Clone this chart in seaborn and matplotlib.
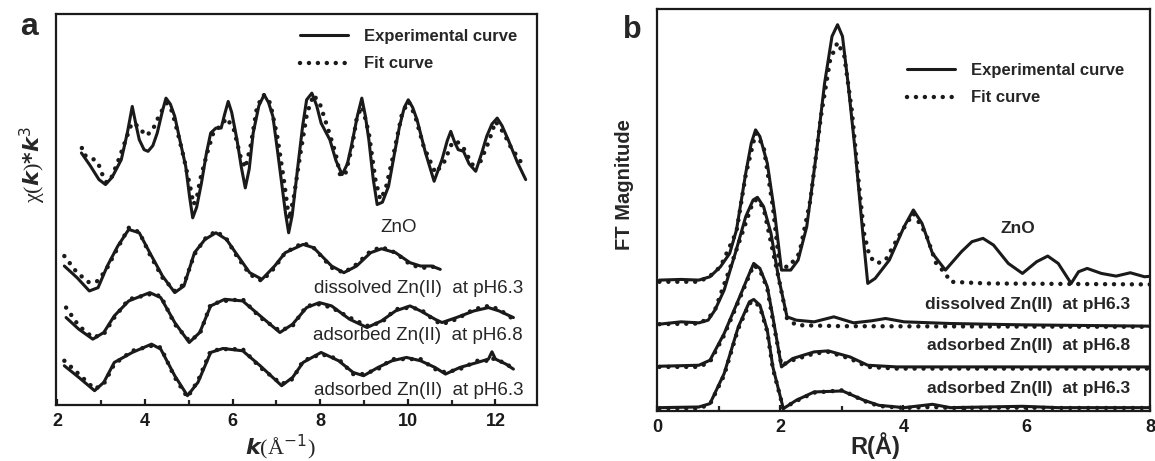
import pandas as pd
import matplotlib
matplotlib.use("Agg")
import matplotlib.pyplot as plt
import seaborn as sns

# ---------------- panel a : chi(k)*k^3 (arbitrary stacked units) ----------------
k_zno = [2.55, 2.75, 2.95, 3.10, 3.25, 3.46, 3.60, 3.71, 3.80, 3.87, 3.98, 4.07, 4.18, 4.28, 4.40, 4.48,
         4.58, 4.68, 4.80, 4.93, 5.02, 5.09, 5.18, 5.29, 5.40, 5.50, 5.62, 5.74, 5.82, 5.90, 5.98, 6.10,
         6.20, 6.29, 6.38, 6.47, 6.60, 6.72, 6.82, 6.92, 7.02, 7.12, 7.21, 7.28, 7.36, 7.49, 7.60, 7.69,
         7.81, 7.92, 8.02, 8.22, 8.36, 8.50, 8.62, 8.71, 8.85, 8.95, 9.03, 9.11, 9.21, 9.30, 9.42, 9.56,
         9.70, 9.81, 9.92, 10.01, 10.11, 10.21, 10.40, 10.60, 10.78, 10.90, 10.98, 11.07, 11.15, 11.27,
         11.40, 11.55, 11.68, 11.80, 11.92, 12.04, 12.15, 12.29, 12.50, 12.69]
exp_zno = [75.8, 72.0, 67.8, 66.3, 68.5, 73.8, 82.0, 89.8, 84.0, 79.8, 76.8, 76.3, 78.0, 81.8, 88.5, 92.3,
           90.5, 86.8, 79.5, 71.8, 62.5, 56.3, 59.5, 66.8, 75.5, 81.8, 83.3, 83.3, 87.5, 91.3, 88.0, 79.8,
           71.5, 65.3, 71.0, 81.8, 90.0, 93.3, 91.0, 86.8, 77.0, 66.8, 57.5, 51.8, 57.0, 71.8, 84.0, 91.8,
           93.8, 90.0, 84.8, 79.8, 73.5, 69.3, 72.5, 77.8, 87.0, 92.3, 87.0, 79.8, 68.0, 60.3, 61.0, 65.8,
           76.0, 83.8, 89.5, 91.8, 89.5, 85.8, 76.0, 67.3, 73.8, 79.5, 82.3, 79.0, 76.8, 76.3,
           72.5, 70.3, 75.5, 80.8, 84.5, 86.3, 84.0, 79.8, 73.0, 67.8]

k_zno_fit = [2.56, 2.60, 2.89, 2.98, 3.04, 3.13, 3.25, 3.40, 3.59, 3.70, 3.86, 4.01, 4.16, 4.35, 4.50,
             4.62, 4.73, 4.88, 5.03, 5.11, 5.19, 5.26, 5.42, 5.57, 5.72, 5.87, 6.03, 6.18, 6.29, 6.41,
             6.56, 6.71, 6.86, 7.02, 7.17, 7.29, 7.40, 7.55, 7.70, 7.85, 8.00, 8.16, 8.35, 8.46, 8.58,
             8.73, 8.84, 8.96, 9.11, 9.26, 9.37, 9.49, 9.68, 9.87, 10.02, 10.17, 10.36, 10.63, 10.82,
             11.01, 11.12, 11.27, 11.47, 11.66, 11.85, 12.00, 12.19, 12.34, 12.57]
fit_zno = [77.3, 75.3, 73.5, 71.3, 68.8, 66.8, 68.8, 73.8, 80.8, 84.8, 83.8, 81.0, 82.3, 87.8, 90.8,
           88.3, 82.8, 74.8, 65.8, 60.3, 62.8, 67.8, 75.8, 82.3, 83.8, 86.3, 82.8, 74.8, 71.3, 77.8,
           89.8, 93.3, 90.8, 80.8, 67.8, 55.8, 62.8, 75.8, 87.8, 93.3, 90.3, 83.8, 75.8, 68.8, 69.8,
           77.8, 86.8, 89.8, 81.8, 67.8, 61.8, 64.8, 75.8, 87.8, 91.3, 86.8, 77.8, 69.8, 72.8,
           78.8, 79.3, 77.3, 72.3, 73.3, 79.3, 85.3, 81.8, 77.8, 73.3]

k_dis = [2.16, 2.45, 2.73, 2.93, 3.14, 3.38, 3.63, 3.87, 4.11, 4.40, 4.68, 4.89, 5.13, 5.37, 5.62, 5.86,
         6.07, 6.39, 6.67, 6.96, 7.20, 7.61, 7.85, 8.26, 8.54, 8.83, 9.15, 9.40, 9.72, 10.05, 10.29,
         10.54, 10.74]
exp_dis = [41.8, 38.3, 34.3, 35.3, 41.8, 47.8, 52.8, 51.8, 45.8, 38.8, 33.8, 35.8, 45.8, 49.8, 51.8, 49.8,
           45.8, 39.8, 37.8, 41.8, 45.8, 48.3, 47.3, 41.8, 39.8, 41.8, 45.8, 47.0, 45.8, 42.8, 41.8,
           41.8, 40.8]
fit_dis = [44.8, 39.8, 36.8, 37.3, 41.3, 47.3, 53.3, 52.0, 45.3, 38.3, 34.3, 36.3, 45.3, 50.0, 52.3, 50.0,
           45.3, 39.3, 37.3, 41.3, 45.8, 48.8, 47.3, 41.3, 39.8, 42.3, 46.3, 47.5, 45.8, 42.3, 41.3,
           41.3, 42.8]

k_68 = [2.20, 2.49, 2.81, 3.06, 3.30, 3.63, 4.11, 4.36, 4.68, 5.01, 5.25, 5.50, 5.82, 6.23, 6.63, 7.08,
        7.37, 7.69, 7.98, 8.26, 8.67, 9.07, 9.40, 9.72, 10.05, 10.29, 10.62, 10.78, 11.11, 11.51, 11.84,
        12.08, 12.41]
exp_68 = [26.3, 22.8, 19.8, 21.8, 26.8, 31.3, 33.8, 32.3, 24.8, 18.8, 21.8, 29.8, 31.8, 31.3, 26.8, 21.8,
          24.3, 29.3, 30.8, 29.8, 25.8, 23.3, 25.3, 28.3, 29.8, 28.3, 25.8, 24.8, 26.3, 28.3, 29.3,
          28.3, 26.3]
fit_68 = [29.3, 23.8, 20.3, 21.3, 26.3, 31.8, 33.3, 32.8, 24.3, 19.3, 21.3, 30.3, 31.3, 31.8, 26.3, 22.3,
          23.8, 29.8, 30.3, 29.3, 26.3, 23.8, 24.8, 28.8, 29.3, 28.8, 25.3, 24.3, 25.8, 28.8, 29.8,
          28.8, 25.8]

k_63 = [2.16, 2.49, 2.85, 3.06, 3.30, 3.71, 4.15, 4.36, 4.68, 4.97, 5.21, 5.50, 5.78, 6.23, 6.63, 7.12,
        7.37, 7.61, 8.02, 8.42, 8.75, 8.99, 9.32, 9.64, 9.97, 10.29, 10.62, 10.86, 11.19, 11.59, 11.84,
        11.92, 12.00, 12.24, 12.41]
exp_63 = [11.8, 8.3, 4.3, 6.8, 12.8, 15.8, 18.3, 16.8, 8.8, 2.8, 6.8, 15.8, 17.0, 16.3, 11.8, 5.8,
          8.3, 12.8, 15.8, 13.3, 9.8, 8.8, 11.3, 13.3, 14.3, 13.3, 11.3, 9.3, 11.3, 12.8, 13.8,
          16.0, 13.8, 12.3, 10.8]
fit_63 = [13.3, 9.3, 4.8, 6.3, 12.3, 16.3, 17.8, 17.3, 8.3, 2.3, 7.3, 16.3, 16.8, 16.8, 11.3, 6.3,
          7.8, 13.3, 15.3, 13.8, 9.3, 9.3, 10.8, 13.8, 13.8, 13.8, 10.8, 9.8, 10.8, 13.3, 13.3,
          14.3, 13.3, 12.8, 10.3]

# ---------------- panel b : FT magnitude (arbitrary stacked units) ----------------
r_zno = [0.04, 0.39, 0.68, 0.86, 1.03, 1.18, 1.29, 1.44, 1.53, 1.60, 1.67, 1.79, 1.91, 2.02, 2.17, 2.29,
         2.43, 2.58, 2.72, 2.84, 2.93, 3.01, 3.10, 3.22, 3.34, 3.42, 3.54, 3.77, 4.01, 4.16, 4.30, 4.47,
         4.68, 4.94, 5.11, 5.29, 5.46, 5.70, 5.93, 6.16, 6.34, 6.51, 6.72, 6.84, 6.98, 7.21, 7.45, 7.68,
         7.91, 8.03]
ft_zno = [39.2, 39.4, 39.2, 40.2, 43.2, 47.2, 54.2, 71.2, 80.2, 84.2, 82.2, 74.2, 59.2, 42.2, 42.2, 45.2,
          55.2, 76.2, 98.2, 112.2, 115.7, 112.2, 98.2, 77.2, 53.2, 38.2, 39.7, 45.2, 55.2, 60.2, 56.2, 47.2,
          42.2, 47.7, 50.7, 51.7, 49.7, 44.2, 41.2, 44.7, 46.4, 44.2, 38.2, 41.7, 42.7, 41.2, 40.4, 41.4,
          40.2, 40.4]
r_zno_fit = [0.04, 0.68, 0.86, 1.03, 1.29, 1.44, 1.60, 1.73, 1.88, 1.99, 2.14, 2.31, 2.49, 2.66, 2.81,
             2.93, 3.04, 3.16, 3.28, 3.36, 3.45, 3.57, 3.71, 3.95, 4.16, 4.36, 4.53, 4.68, 4.76, 5.35, 8.03]
ftfit_zno = [38.7, 38.7, 40.4, 43.2, 53.7, 70.7, 83.2, 79.2, 61.2, 43.2, 43.2, 47.2, 63.2, 88.2, 105.2,
             110.4, 106.2, 90.2, 67.2, 53.2, 46.2, 44.2, 45.2, 53.2, 59.2, 53.2, 44.2, 41.2, 38.7, 38.2, 37.9]

r_dis = [0.04, 0.39, 0.68, 0.83, 0.94, 1.09, 1.27, 1.44, 1.56, 1.63, 1.73, 1.85, 1.97, 2.11, 2.26, 2.55,
         2.87, 3.19, 3.48, 3.71, 4.01, 4.76, 5.93, 8.03]
ft_dis = [26.0, 26.7, 26.4, 27.2, 30.2, 36.2, 47.2, 58.2, 63.2, 64.0, 61.2, 53.2, 40.2, 28.2, 27.2, 26.7,
          28.2, 26.4, 27.0, 27.7, 26.7, 26.2, 25.8, 25.4]
r_dis_fit = [0.04, 0.68, 0.83, 0.94, 1.27, 1.56, 1.63, 1.73, 1.97, 2.11, 2.26, 3.01, 8.03]
ftfit_dis = [26.0, 26.2, 27.7, 30.2, 47.2, 62.7, 63.4, 60.7, 40.2, 27.7, 25.7, 25.4, 25.2]

r_ads = [0.04, 0.68, 0.86, 1.09, 1.32, 1.50, 1.57, 1.67, 1.79, 1.88, 2.02, 2.20, 2.55, 2.78, 3.13, 3.42,
         3.89, 8.03]
ft_68 = [13.4, 13.7, 15.2, 23.2, 33.2, 41.2, 44.2, 42.7, 37.2, 28.2, 13.2, 15.7, 17.7, 18.0, 16.2, 13.7,
         13.2, 13.2]
ftfit_68 = [13.2, 13.2, 14.7, 22.7, 32.7, 40.7, 43.7, 42.2, 36.7, 27.2, 13.7, 15.2, 17.2, 17.7, 15.7, 13.2,
            12.7, 12.7]

r_63 = [0.04, 0.68, 0.86, 1.09, 1.32, 1.50, 1.57, 1.67, 1.79, 1.88, 2.05, 2.26, 2.55, 3.01, 3.36, 3.60,
        4.01, 4.47, 4.76, 5.93, 6.51, 8.03]
ft_63 = [1.0, 1.2, 2.2, 11.2, 25.2, 32.7, 33.4, 31.7, 24.2, 13.2, 0.7, 3.2, 5.7, 6.0, 3.2, 1.7,
         1.0, 2.0, 1.0, 1.4, 1.0, 1.0]
ftfit_63 = [0.8, 0.8, 2.0, 10.7, 24.7, 32.2, 32.9, 31.2, 23.7, 12.7, 0.8, 3.0, 5.5, 6.2, 3.0, 1.5,
            0.9, 1.2, 0.9, 1.0, 0.9, 0.9]

sample_labels = ["ZnO", "dissolved Zn(II)  at pH6.3", "adsorbed Zn(II)  at pH6.8",
                 "adsorbed Zn(II)  at pH6.3"]

sns.set_theme(style="white")
plt.rcParams["font.family"] = ["Liberation Sans", "DejaVu Sans"]
plt.rcParams["mathtext.fontset"] = "dejavusans"

fig = plt.figure(figsize=(11.55, 4.61), dpi=100)
ax_a = fig.add_axes([0.0485, 0.1215, 0.4165, 0.8481])
ax_b = fig.add_axes([0.5688, 0.1085, 0.4269, 0.872])

solid = dict(color="#1a1a1a", linewidth=2.2)
dotted = dict(color="#1a1a1a", linewidth=3.2, linestyle=(0, (0.01, 2.0)), dash_capstyle="round")

curves_a = [(k_zno, exp_zno, k_zno_fit, fit_zno), (k_dis, exp_dis, k_dis, fit_dis),
            (k_68, exp_68, k_68, fit_68), (k_63, exp_63, k_63, fit_63)]
for i, (xe, ye, xf, yf) in enumerate(curves_a):
    sns.lineplot(x=xf, y=yf, ax=ax_a, sort=False, estimator=None,
                 label="Fit curve" if i == 0 else None, **dotted)
    sns.lineplot(x=xe, y=ye, ax=ax_a, sort=False, estimator=None,
                 label="Experimental curve" if i == 0 else None, **solid)

curves_b = [(r_zno, ft_zno, r_zno_fit, ftfit_zno), (r_dis, ft_dis, r_dis_fit, ftfit_dis),
            (r_ads, ft_68, r_ads, ftfit_68), (r_63, ft_63, r_63, ftfit_63)]
for i, (xe, ye, xf, yf) in enumerate(curves_b):
    sns.lineplot(x=xf, y=yf, ax=ax_b, sort=False, estimator=None,
                 label="Fit curve" if i == 0 else None, **dotted)
    sns.lineplot(x=xe, y=ye, ax=ax_b, sort=False, estimator=None,
                 label="Experimental curve" if i == 0 else None, **solid)

ax_a.set_xlim(1.97, 12.95)
ax_a.set_ylim(0, 117.6)
ax_a.set_xticks([2, 4, 6, 8, 10, 12])
ax_a.set_xticks([3, 5, 7, 9, 11], minor=True)
ax_b.set_xlim(0, 7.95)
ax_b.set_ylim(0, 120.4)
ax_b.set_xticks([0, 2, 4, 6, 8])
ax_b.set_xticks([1, 3, 5, 7], minor=True)

for ax in (ax_a, ax_b):
    ax.set_yticks([])
    ax.set_xlabel("")
    ax.set_ylabel("")
    for sp in ax.spines.values():
        sp.set_linewidth(1.6)
        sp.set_color("#1a1a1a")
    ax.tick_params(axis="x", which="major", direction="in", length=4, width=1.6,
                   bottom=True, pad=6, labelsize=13, colors="#1a1a1a")
    ax.tick_params(axis="x", which="minor", direction="in", length=3.5, width=1.6, bottom=True)
    for lab in ax.get_xticklabels():
        lab.set_fontweight("bold")
    # legend: experimental first
    h, l = ax.get_legend_handles_labels()
    order = [l.index("Experimental curve"), l.index("Fit curve")]
    ax.legend([h[j] for j in order], [l[j] for j in order], frameon=False,
              prop=dict(weight="bold", size=12), handlelength=2.9, handletextpad=0.95,
              labelspacing=0.75, borderpad=0, borderaxespad=0, loc="upper left",
              bbox_to_anchor=(0.507, 0.962) if ax is ax_a else (0.507, 0.866))

# sample annotations
ax_a.text(0.713, 0.453, sample_labels[0], transform=ax_a.transAxes, ha="center", va="center",
          fontsize=13.5)
for lab, yy in zip(sample_labels[1:], [0.299, 0.179, 0.038]):
    ax_a.text(0.971, yy, lab, transform=ax_a.transAxes, ha="right", va="center", fontsize=13.5)

ax_b.text(0.732, 0.455, sample_labels[0], transform=ax_b.transAxes, ha="center", va="center",
          fontsize=12.5, fontweight="bold")
for lab, yy in zip(sample_labels[1:], [0.264, 0.164, 0.055]):
    ax_b.text(0.960, yy, lab, transform=ax_b.transAxes, ha="right", va="center",
              fontsize=12.5, fontweight="bold")

# axis titles
fig.text(33 / 1155, 1 - 165 / 461, r"χ($\mathbfit{k}$)$\mathbf{*}$$\mathbfit{k}^{3}$", rotation=90,
         ha="center", va="center", fontsize=16, family=["Liberation Serif", "DejaVu Serif"])
fig.text(280 / 1155, 1 - 447 / 461, r"$\mathbfit{k}$(Å$^{-1}$)", ha="center", va="center",
         fontsize=16, family=["Liberation Serif", "DejaVu Serif"])
fig.text(625 / 1155, 1 - 185 / 461, "FT Magnitude", rotation=90, ha="center", va="center",
         fontsize=14.5, fontweight="bold")
fig.text(875 / 1155, 1 - 446 / 461, "R(Å)", ha="center", va="center", fontsize=17, fontweight="bold")

# panel letters
fig.text(20 / 1155, 1 - 35 / 461, "a", ha="left", va="baseline", fontsize=23, fontweight="bold")
fig.text(623 / 1155, 1 - 38 / 461, "b", ha="left", va="baseline", fontsize=22, fontweight="bold")

fig.savefig("out.png", dpi=100)
